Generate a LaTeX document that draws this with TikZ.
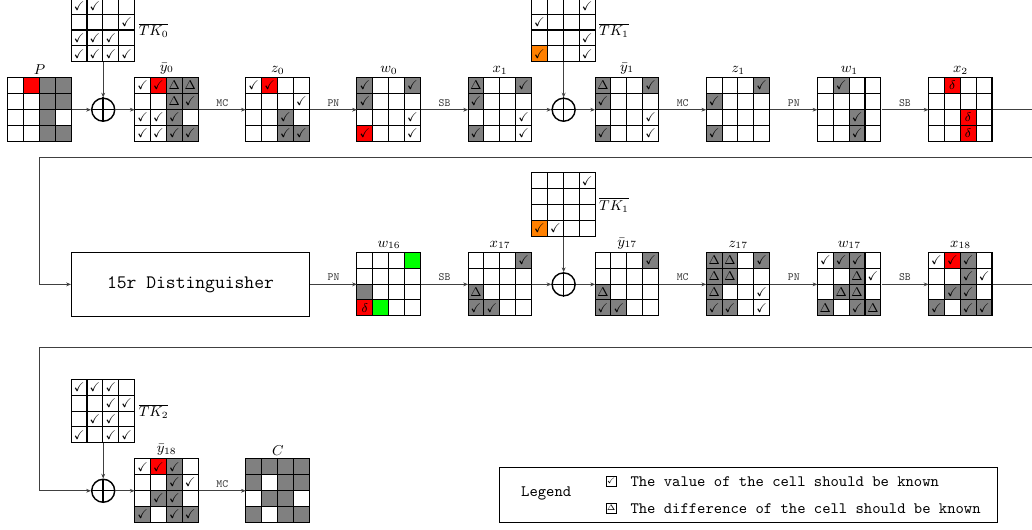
\documentclass[tikz,border=0pt]{standalone}
\usepackage{amssymb}
\usetikzlibrary{positioning,arrows.meta}

\colorlet{cellw}{white}
\colorlet{cellg}{gray}
\colorlet{cellr}{red}
\colorlet{cello}{orange}
\colorlet{celln}{green}
\newcommand{\symc}{$\checkmark$}
\newcommand{\symd}{$\Delta$}
\newcommand{\syms}{$\delta$}
\newcommand{\symn}{}

\tikzset{
  cell/.style={draw, line width=0.65pt, minimum size=10pt, inner sep=0pt, font=\footnotesize},
  gridbox/.style={minimum size=40pt, inner sep=0pt},
  lbl/.style={font=\small, inner sep=1pt},
  xorop/.style={circle, draw, line width=0.9pt, minimum size=14.5pt, inner sep=0pt},
  oplbl/.style={font=\scriptsize\ttfamily, above, inner sep=2pt},
  flow/.style={->, line width=0.5pt, black!75},
  keybox/.style={draw, line width=0.4pt, minimum size=6.5pt, inner sep=0.3pt, font=\tiny},
  keytext/.style={font=\ttfamily, inner sep=1pt},
  >={Stealth[length=3pt,width=2.4pt]}
}

% #1 name, #2 centre, #3 label side, #4 label, #5 cells (colour/symbol, row by row)
\newcommand{\stategrid}[5]{%
  \node[gridbox] (#1) at (#2) {};
  \foreach \f/\s [count=\i from 0] in {#5} {
    \pgfmathtruncatemacro{\col}{mod(\i,4)}
    \pgfmathtruncatemacro{\row}{div(\i,4)}
    \node[cell, fill=cell\f] (#1-\row-\col) at ([shift={(\col+0.5,-\row-0.5)}]#1.north west) {\csname sym\s\endcsname};
  }
  \node[lbl, #3=1pt of #1] (#1-lbl) {#4};
}
\newcommand{\xorgate}[2]{%
  \node[xorop] (#1) at (#2) {};
  \draw[line width=0.9pt] (#1.north) -- (#1.south) (#1.west) -- (#1.east);
}

\begin{document}
\begin{tikzpicture}[x=10pt,y=10pt]
\useasboundingbox (0,-33.41) rectangle (65,-0.09);
% row 1
\stategrid{P}{2.5,-7}{above}{$P$}{w/n,r/n,g/n,g/n, w/n,w/n,g/n,g/n, w/n,w/n,g/n,w/n, w/n,w/n,g/n,g/n}
\stategrid{tk0}{6.5,-2}{right}{$\overline{TK_0}$}{w/c,w/c,w/n,w/n, w/n,w/n,w/n,w/c, w/c,w/c,w/c,w/n, w/c,w/c,w/c,w/c}
\xorgate{xor0}{6.5,-7}
\stategrid{y0}{10.5,-7}{above}{$\bar{y}_0$}{w/c,r/c,g/d,g/d, w/n,w/n,g/d,g/c, w/c,w/c,g/c,w/n, w/c,w/c,g/c,g/c}
\stategrid{z0}{17.5,-7}{above}{$z_0$}{w/c,r/c,w/n,w/n, w/n,w/n,w/n,w/c, w/n,w/n,g/c,w/n, w/n,w/n,g/c,g/c}
\stategrid{w0}{24.5,-7}{above}{$w_0$}{g/c,w/n,w/n,g/c, g/c,w/n,w/n,w/n, w/n,w/n,w/n,w/c, r/c,w/n,w/n,w/c}
\stategrid{x1}{31.5,-7}{above}{$x_1$}{g/d,w/n,w/n,g/c, g/c,w/n,w/n,w/n, w/n,w/n,w/n,w/c, g/c,w/n,w/n,w/c}
\stategrid{tk1}{35.5,-2}{right}{$\overline{TK_1}$}{w/n,w/n,w/n,w/c, w/c,w/n,w/n,w/n, w/n,w/n,w/n,w/c, o/c,w/n,w/n,w/c}
\xorgate{xor1}{35.5,-7}
\stategrid{y1}{39.5,-7}{above}{$\bar{y}_1$}{g/d,w/n,w/n,g/c, g/c,w/n,w/n,w/n, w/n,w/n,w/n,w/c, g/c,w/n,w/n,w/c}
\stategrid{z1}{46.5,-7}{above}{$z_1$}{w/n,w/n,w/n,g/c, g/c,w/n,w/n,w/n, w/n,w/n,w/n,w/n, g/c,w/n,w/n,w/n}
\stategrid{w1}{53.5,-7}{above}{$w_1$}{w/n,g/c,w/n,w/n, w/n,w/n,w/n,w/n, w/n,w/n,g/c,w/n, w/n,w/n,g/c,w/n}
\stategrid{x2}{60.5,-7}{above}{$x_2$}{w/n,r/s,w/n,w/n, w/n,w/n,w/n,w/n, w/n,w/n,r/s,w/n, w/n,w/n,r/s,w/n}
\draw[flow] (P) -- (xor0);
\draw[flow] (tk0) -- (xor0);
\draw[flow] (xor0) -- (y0);
\draw[flow] (y0) -- node[oplbl] (mc0) {MC} (z0);
\draw[flow] (z0) -- node[oplbl] (pn0) {PN} (w0);
\draw[flow] (w0) -- node[oplbl] (sb0) {SB} (x1);
\draw[flow] (x1) -- (xor1);
\draw[flow] (tk1) -- (xor1);
\draw[flow] (xor1) -- (y1);
\draw[flow] (y1) -- node[oplbl] (mc1) {MC} (z1);
\draw[flow] (z1) -- node[oplbl] (pn1) {PN} (w1);
\draw[flow] (w1) -- node[oplbl] (sb1) {SB} (x2);
\coordinate (exit0) at (66,-7);
\coordinate (turn0) at (2.5,-10);
% row 2
\node[draw, line width=0.6pt, minimum width=150pt, minimum height=40pt, font=\large\ttfamily] (dist) at (12,-18) {15r Distinguisher};
\stategrid{w16}{24.5,-18}{above}{$w_{16}$}{w/n,w/n,w/n,n/n, w/n,w/n,w/n,w/n, g/n,w/n,w/n,w/n, r/s,n/n,w/n,w/n}
\stategrid{x17}{31.5,-18}{above}{$x_{17}$}{w/n,w/n,w/n,g/c, w/n,w/n,w/n,w/n, g/d,w/n,w/n,w/n, g/c,g/c,w/n,w/n}
\stategrid{tk1b}{35.5,-13}{right}{$\overline{TK_1}$}{w/n,w/n,w/n,w/c, w/n,w/n,w/n,w/n, w/n,w/n,w/n,w/n, o/c,w/c,w/n,w/n}
\xorgate{xor17}{35.5,-18}
\stategrid{y17}{39.5,-18}{above}{$\bar{y}_{17}$}{w/n,w/n,w/n,g/c, w/n,w/n,w/n,w/n, g/d,w/n,w/n,w/n, g/c,g/c,w/n,w/n}
\stategrid{z17}{46.5,-18}{above}{$z_{17}$}{g/d,g/d,w/n,g/c, g/d,g/d,w/n,w/n, g/d,w/n,w/n,w/c, g/c,g/c,w/n,w/c}
\stategrid{w17}{53.5,-18}{above}{$w_{17}$}{w/c,g/c,g/c,w/n, w/n,w/n,g/d,w/c, w/n,g/d,g/d,w/n, g/d,w/n,g/c,g/d}
\stategrid{x18}{60.5,-18}{above}{$x_{18}$}{w/c,r/c,g/c,w/n, w/n,w/n,g/c,w/c, w/n,g/c,g/c,w/n, g/c,w/n,g/c,g/c}
\draw[flow] (x2) -- (exit0) |- (turn0) |- (dist);
\draw[flow] (dist) -- node[oplbl] (pn16) {PN} (w16);
\draw[flow] (w16) -- node[oplbl] (sb16) {SB} (x17);
\draw[flow] (x17) -- (xor17);
\draw[flow] (tk1b) -- (xor17);
\draw[flow] (xor17) -- (y17);
\draw[flow] (y17) -- node[oplbl] (mc17) {MC} (z17);
\draw[flow] (z17) -- node[oplbl] (pn17) {PN} (w17);
\draw[flow] (w17) -- node[oplbl] (sb17) {SB} (x18);
\coordinate (exit1) at (66,-18);
\coordinate (turn1) at (2.5,-22);
% row 3
\stategrid{tk2}{6.5,-26}{right}{$\overline{TK_2}$}{w/c,w/c,w/c,w/n, w/n,w/n,w/c,w/c, w/n,w/c,w/c,w/n, w/c,w/n,w/c,w/c}
\xorgate{xor18}{6.5,-31}
\stategrid{y18}{10.5,-31}{above}{$\bar{y}_{18}$}{w/c,r/c,g/c,w/n, w/n,w/n,g/c,w/c, w/n,g/c,g/c,w/n, g/c,w/n,g/c,g/c}
\stategrid{C}{17.5,-31}{above}{$C$}{g/n,g/n,g/n,g/n, g/n,w/n,g/n,g/n, w/n,g/n,g/n,w/n, g/n,w/n,g/n,g/n}
\draw[flow] (x18) -- (exit1) |- (turn1) |- (xor18);
\draw[flow] (tk2) -- (xor18);
\draw[flow] (xor18) -- (y18);
\draw[flow] (y18) -- node[oplbl] (mc18) {MC} (C);
% legend
\node[draw, line width=0.5pt, minimum width=314pt, minimum height=34.5pt, inner sep=0pt] (legend) at (47.15,-31.27) {};
\node[font=\ttfamily] (legtitle) at (34.4,-31.2) {Legend};
\node[keybox] (key1) at (38.5,-30.4) {$\checkmark$};
\node[keybox] (key2) at (38.5,-32.1) {$\Delta$};
\node[keytext, right=7.5pt of key1] (keytext1) {The value of the cell should be known};
\node[keytext, right=7.5pt of key2] (keytext2) {The difference of the cell should be known};
\end{tikzpicture}
\end{document}
